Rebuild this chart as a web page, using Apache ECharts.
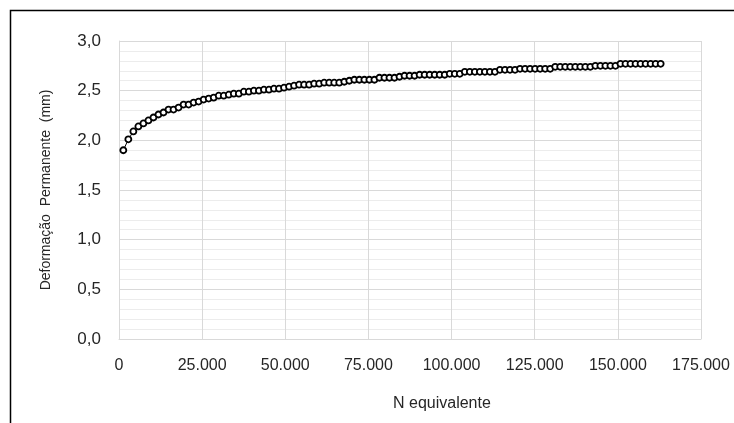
<!DOCTYPE html>
<html>
<head>
<meta charset="utf-8">
<script src="https://cdn.jsdelivr.net/npm/echarts@6/dist/echarts.min.js"></script>
<style>
  html, body { margin: 0; padding: 0; background: #fff; }
  #chart { width: 734px; height: 423px; }
</style>
</head>
<body>
<div id="chart"></div>
<script>
  // N equivalente (ciclos)
  var nEquivalente = [
    1300, 2810, 4320, 5830, 7340, 8850, 10360, 11870, 13380, 14890,
    16400, 17910, 19420, 20930, 22440, 23950, 25460, 26970, 28480, 29990,
    31500, 33010, 34520, 36030, 37540, 39050, 40560, 42070, 43580, 45090,
    46600, 48110, 49620, 51130, 52640, 54150, 55660, 57170, 58680, 60190,
    61700, 63210, 64720, 66230, 67740, 69250, 70760, 72270, 73780, 75290,
    76800, 78310, 79820, 81330, 82840, 84350, 85860, 87370, 88880, 90390,
    91900, 93410, 94920, 96430, 97940, 99450, 100960, 102470, 103980, 105490,
    107000, 108510, 110020, 111530, 113040, 114550, 116060, 117570, 119080, 120590,
    122100, 123610, 125120, 126630, 128140, 129650, 131160, 132670, 134180, 135690,
    137200, 138710, 140220, 141730, 143240, 144750, 146260, 147770, 149280, 150790,
    152300, 153810, 155320, 156830, 158340, 159850, 161360, 162870
  ];
  // Deformação permanente (mm)
  var deformacao = [
    1.90, 2.01, 2.09, 2.14, 2.17, 2.20, 2.23, 2.26, 2.28, 2.31,
    2.31, 2.33, 2.36, 2.36, 2.38, 2.39, 2.41, 2.42, 2.43, 2.45,
    2.45, 2.46, 2.47, 2.47, 2.49, 2.49, 2.50, 2.50, 2.51, 2.51,
    2.52, 2.52, 2.53, 2.54, 2.55, 2.56, 2.56, 2.56, 2.57, 2.57,
    2.58, 2.58, 2.58, 2.58, 2.59, 2.60, 2.61, 2.61, 2.61, 2.61,
    2.61, 2.63, 2.63, 2.63, 2.63, 2.64, 2.65, 2.65, 2.65, 2.66,
    2.66, 2.66, 2.66, 2.66, 2.66, 2.67, 2.67, 2.67, 2.69, 2.69,
    2.69, 2.69, 2.69, 2.69, 2.69, 2.71, 2.71, 2.71, 2.71, 2.72,
    2.72, 2.72, 2.72, 2.72, 2.72, 2.72, 2.74, 2.74, 2.74, 2.74,
    2.74, 2.74, 2.74, 2.74, 2.75, 2.75, 2.75, 2.75, 2.75, 2.77,
    2.77, 2.77, 2.77, 2.77, 2.77, 2.77, 2.77, 2.77
  ];

  var fonte = "'Liberation Sans Narrow', 'Arial Narrow', 'Liberation Sans', sans-serif";

  var pontos = nEquivalente.map(function (n, i) {
    return [n, deformacao[i]];
  });

  var mychar = echarts.init(document.getElementById('chart'), null, { renderer: 'canvas' });

  var option = {
    backgroundColor: '#fff',
    animation: false,
    grid: { left: 119, top: 41, right: 33, bottom: 84 },
    xAxis: {
      type: 'value',
      min: 0,
      max: 175000,
      interval: 25000,
      axisLine: { show: true, lineStyle: { color: '#d9d9d9', width: 1 } },
      axisTick: { show: false },
      splitLine: { show: true, lineStyle: { color: '#d9d9d9', width: 1 } },
      axisLabel: {
        margin: 19,
        color: '#262626',
        fontFamily: fonte,
        fontSize: 16,
        formatter: function (v) {
          return v.toString().replace(/\B(?=(\d{3})+(?!\d))/g, '.');
        }
      }
    },
    yAxis: {
      type: 'value',
      min: 0,
      max: 3,
      interval: 0.5,
      name: 'Deformação  Permanente  (mm)',
      nameLocation: 'middle',
      nameGap: 66,
      nameTextStyle: { color: '#262626', fontFamily: fonte, fontSize: 14 },
      axisLine: { show: true, lineStyle: { color: '#d9d9d9', width: 1 } },
      axisTick: { show: false },
      minorTick: { show: false, splitNumber: 5 },
      splitLine: { show: true, lineStyle: { color: '#d9d9d9', width: 1 } },
      minorSplitLine: { show: true, lineStyle: { color: '#ececec', width: 1 } },
      axisLabel: {
        margin: 18,
        color: '#262626',
        fontFamily: fonte,
        fontSize: 17,
        formatter: function (v) {
          return v.toFixed(1).replace('.', ',');
        }
      }
    },
    graphic: [
      {
        type: 'rect',
        shape: { x: 10.5, y: 10.5, width: 740, height: 430 },
        style: { fill: 'none', stroke: '#000', lineWidth: 1.5 },
        silent: true
      },
      {
        type: 'text',
        left: 393,
        top: 396,
        style: { text: 'N equivalente', fill: '#262626', font: '16px ' + fonte }
      }
    ],
    series: [{
      type: 'line',
      data: pontos,
      symbol: 'circle',
      symbolSize: 6,
      showAllSymbol: true,
      lineStyle: { color: '#000', width: 1 },
      itemStyle: { color: '#fff', borderColor: '#000', borderWidth: 1.8 },
      z: 3
    }]
  };

  mychar.setOption(option);
</script>
</body>
</html>
